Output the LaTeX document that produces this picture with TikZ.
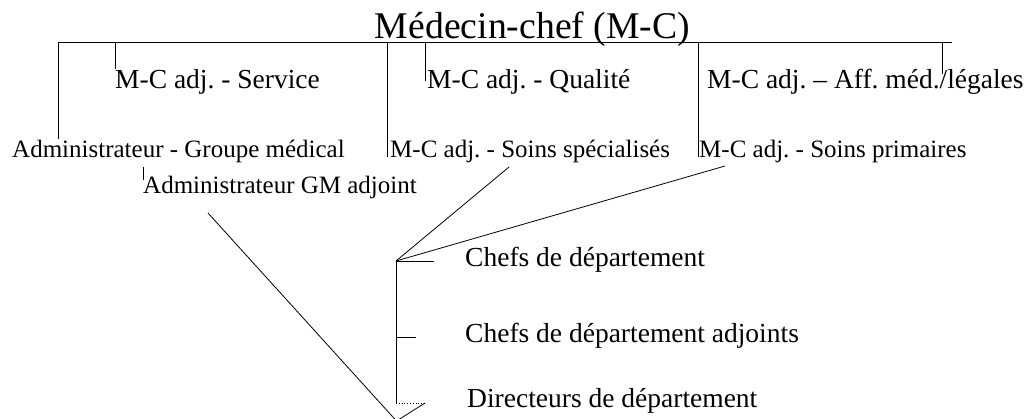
\documentclass[tikz,border=0pt]{standalone}
\usepackage{fontspec}
\setmainfont{Liberation Serif}
\frenchspacing
\begin{document}
\begin{tikzpicture}[x=1pt,y=-1pt,
  lbl/.style={anchor=base west,inner sep=0pt,font=\fontsize{27.5}{30}\selectfont},
  lbls/.style={anchor=base west,inner sep=0pt,font=\fontsize{25}{28}\selectfont},
  ln/.style={line width=0.8pt,black}]
\useasboundingbox (0,0) rectangle (1035,418);
\clip (0,0) rectangle (1035,418);

% titles
\node[anchor=base,inner sep=0pt,font=\fontsize{37.7}{40}\selectfont] (mc) at (532.5,38) {Médecin-chef (M-C)};
\node[lbl] (svc)  at (115,88) {M-C adj. - Service};
\node[lbl] (qual) at (427,88) {M-C adj. - Qualité};
\node[lbl] (aff)  at (707,88) {M-C adj. – Aff. méd./légales};
\node[lbls] (adm)  at (12,157)  {Administrateur - Groupe médical};
\node[lbls] (spec) at (390,157) {M-C adj. - Soins spécialisés};
\node[lbls] (prim) at (699,157) {M-C adj. - Soins primaires};
\node[lbls] (gma)  at (143,193) {Administrateur GM adjoint};
\node[lbl] (cd)  at (465,266) {Chefs de département};
\node[lbl] (cda) at (465,342) {Chefs de département adjoints};
\node[lbl] (dd)  at (467,407) {Directeurs de département};

% top bar and its drops
\coordinate (barL) at (58,42);
\coordinate (barR) at (952,42);
\coordinate (j2) at (115,42);
\coordinate (j3) at (387,42);
\coordinate (j4) at (425,42);
\coordinate (j5) at (698,42);
\coordinate (j6) at (942,42);
\coordinate (a6) at (942,74);
\draw[ln] (barL) -- (barR);
\draw[ln] (barL) -- (barL |- adm.north);
\draw[ln] (j2) -- (svc.north west);
\draw[ln] (j3) -- (j3 |- spec.base);
\draw[ln] (j4) -- (j4 |- qual.center);
\draw[ln] (j5) -- (j5 |- prim.base);
\draw[ln] (j6) -- (a6);

% group medical administrator
\coordinate (g1) at (143,167);
\coordinate (g2) at (143,180);
\draw[ln] (g1) -- (g2);

% department chain
\coordinate (c0) at (396,261);
\coordinate (c1) at (396,337);
\coordinate (c2) at (396,403);
\coordinate (t1) at (434,261);
\coordinate (t2) at (416,337);
\coordinate (t3) at (425,403);
\coordinate (s1) at (509,167);
\coordinate (p1) at (725,166);
\coordinate (g3) at (208,213);
\coordinate (v)  at (396.5,421);
\draw[ln] (c0) -- (c2);
\draw[ln] (c0) -- (t1);
\draw[ln] (c1) -- (t2);
\draw[ln,dotted] (c2) -- (t3);
\draw[ln] (c0) -- (s1);
\draw[ln] (c0) -- (p1);
\draw[ln] (g3) -- (v) -- (t3);
\end{tikzpicture}
\end{document}
